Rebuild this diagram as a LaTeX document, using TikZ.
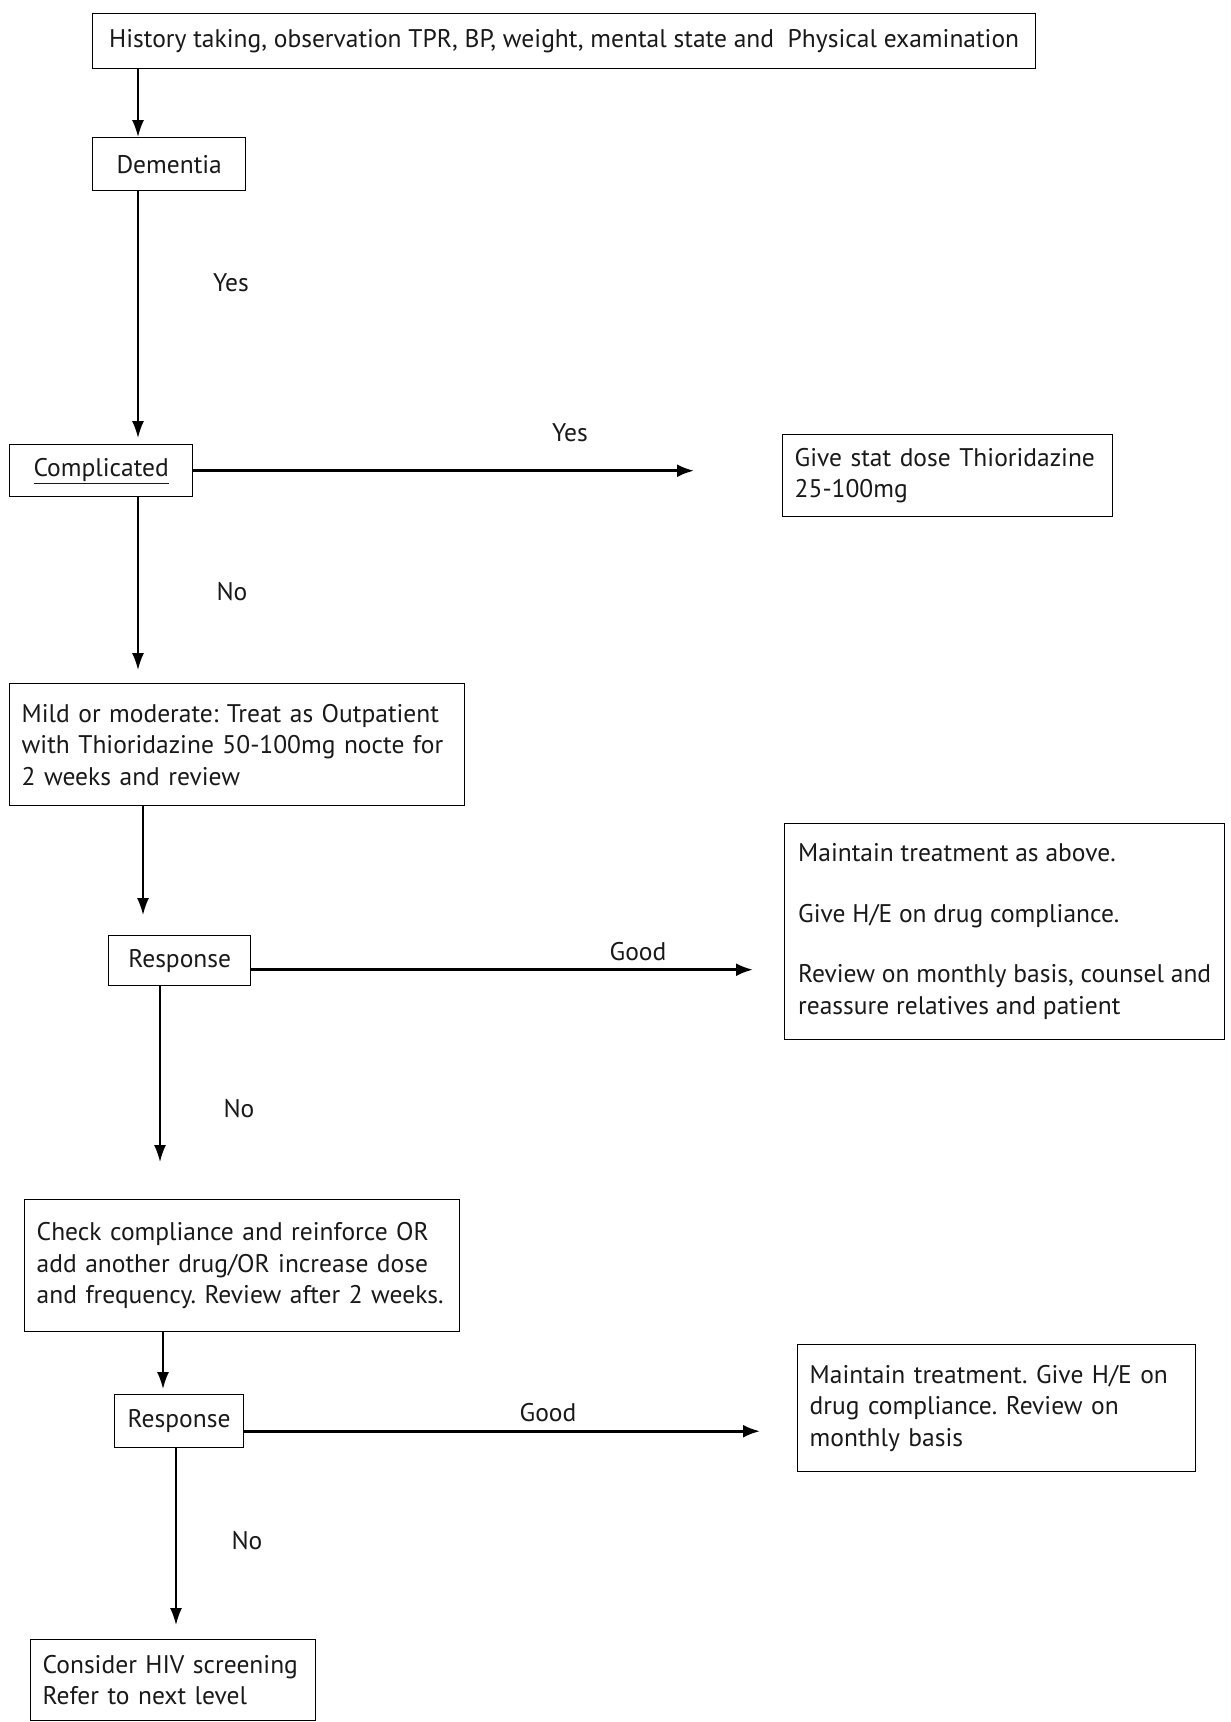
\documentclass[tikz,border=0pt]{standalone}
\usepackage{fontspec}
\setmainfont{PT Sans}
\usetikzlibrary{arrows.meta}
\begin{document}
\frenchspacing
\begin{tikzpicture}[x=1pt,y=1pt,
  font=\fontsize{25.5}{31.5}\selectfont\frenchspacing,
  box/.style={draw, line width=1.4pt, inner xsep=13pt, inner ysep=4pt, anchor=north west, text=black!90},
  mbox/.style={box, align=left},
  arr/.style={line width=1.8pt, -{Latex[length=17pt,width=12pt]}},
  harr/.style={line width=2.6pt, -{Latex[length=17pt,width=13pt]}},
  lbl/.style={inner sep=1pt, text=black!90}]
\useasboundingbox (0,0) rectangle (1231,-1722);
\fill[white] (0,0) rectangle (1231,-1722);

\node[box, minimum width=943, minimum height=55] (hist) at (92,-13)
  {History taking, observation TPR, BP, weight, mental state and\ \ Physical examination};
\node[box, minimum width=153, minimum height=53] (dem) at (92,-137) {Dementia};
\node[box, minimum width=183, minimum height=52, inner xsep=10pt] (comp) at (9,-444) {\underline{Complicated}};
\node[mbox, text width=306, minimum height=82, inner xsep=12pt] (give) at (782,-434)
  {Give stat dose Thioridazine\\25-100mg};
\node[mbox, text width=431, minimum height=122, inner xsep=12pt] (mild) at (9,-683)
  {Mild or moderate: Treat as Outpatient\\with Thioridazine 50-100mg nocte for\\2 weeks and review};
\node[box, minimum width=142, minimum height=50] (resp1) at (108,-935) {Response};
\node[mbox, minimum width=440, minimum height=216, inner xsep=5pt] (maint1) at (784,-823)
  {Maintain treatment as above.\\[29pt]Give H/E on drug compliance.\\[29pt]Review on monthly basis, counsel and\\reassure relatives and patient};
\node[mbox, text width=411, minimum height=132, inner xsep=12pt] (check) at (24,-1199)
  {Check compliance and reinforce OR\\add another drug/OR increase dose\\and frequency. Review after 2 weeks.};
\node[box, minimum width=125, minimum height=53] (resp2) at (114,-1394) {Response};
\node[mbox, text width=374, minimum height=127, inner xsep=12pt] (maint2) at (797,-1344)
  {Maintain treatment. Give H/E on\\drug compliance. Review on\\monthly basis};
\node[mbox, text width=261, minimum height=81, inner xsep=12pt] (cons) at (30,-1639)
  {Consider HIV screening\\Refer to next level};

\coordinate (c1) at (138,0);
\coordinate (c2) at (143,0);
\coordinate (c3) at (160,0);
\coordinate (c4) at (163,0);
\coordinate (c5) at (176,0);

\draw[arr] (hist.south -| c1) -- (dem.north -| c1);
\draw[arr, shorten >=6pt] (dem.south -| c1) -- (comp.north -| c1);
\draw[arr, shorten >=13pt] (comp.south -| c1) -- (mild.north -| c1);
\draw[arr, shorten >=20pt] (mild.south -| c2) -- (resp1.north -| c2);
\draw[arr, shorten >=37pt] (resp1.south -| c3) -- (check.north -| c3);
\draw[arr, shorten >=5pt] (check.south -| c4) -- (resp2.north -| c4);
\draw[arr, shorten >=14pt] (resp2.south -| c5) -- (cons.north -| c5);

\draw[harr, shorten >=88pt] (comp.east) -- (comp.east -| give.west);
\draw[harr, shorten >=31pt] ([yshift=-9pt]resp1.east) -- ([yshift=-9pt]resp1.east -| maint1.west);
\draw[harr, shorten >=37pt] ([yshift=-10pt]resp2.east) -- ([yshift=-10pt]resp2.east -| maint2.west);

\node[lbl] (yes1) at (231,-283) {Yes};
\node[lbl] (yes2) at (570,-433) {Yes};
\node[lbl] (no1) at (232,-592) {No};
\node[lbl] (good1) at (638,-952) {Good};
\node[lbl] (no2) at (239,-1109) {No};
\node[lbl] (good2) at (548,-1413) {Good};
\node[lbl] (no3) at (247,-1541) {No};
\end{tikzpicture}
\end{document}
